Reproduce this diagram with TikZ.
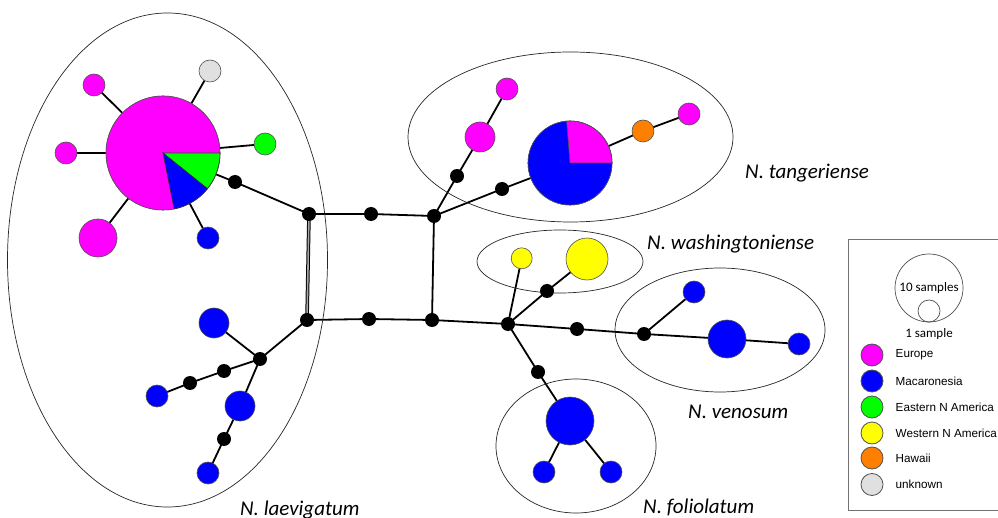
\documentclass[tikz,border=0pt]{standalone}
\usepackage{fontspec}
\setmainfont{Carlito}
\newfontfamily\legendfont{Liberation Sans}
\usetikzlibrary{backgrounds}

\definecolor{eur}{HTML}{FF00FF}
\definecolor{mac}{HTML}{0000FF}
\definecolor{ena}{HTML}{00FF00}
\definecolor{wna}{HTML}{FFFF00}
\definecolor{haw}{HTML}{FF8000}
\definecolor{unk}{HTML}{E0E0E0}
\definecolor{rim}{HTML}{505050}

\tikzset{
  hap/.style={circle, draw=rim, line width=0.6pt, inner sep=0pt, minimum size=#1},
  hap/.default=22pt,
  med/.style={circle, fill=black, inner sep=0pt, minimum size=14pt},
  link/.style={line width=1.8pt, black},
  group/.style={draw=black!85, line width=0.7pt},
  species/.style={font=\fontsize{21}{23}\selectfont\itshape, anchor=base west, inner sep=0pt},
  legtext/.style={font=\legendfont\fontsize{11.7}{13}\selectfont, anchor=west, inner sep=0pt},
  legdot/.style={circle, draw=rim, line width=0.8pt, inner sep=0pt, minimum size=22pt}
}

\begin{document}
\begin{tikzpicture}[x=1pt, y=-1pt]
\useasboundingbox (0,0) rectangle (998,518);
\clip (0,0) rectangle (998,518);

% species groupings
\draw[group] (167.5,260) ellipse [x radius=160, y radius=247];
\draw[group] (570.5,137) ellipse [x radius=162.5, y radius=85];
\draw[group] (560,261.5) ellipse [x radius=83, y radius=31.5];
\draw[group] (720,330) ellipse [x radius=105, y radius=62];
\draw[group] (576,446) ellipse [x radius=80, y radius=67];

% ---------- haplotypes ----------
% N. laevigatum
\node[hap=114pt] (p1) at (163,153) {};
\node[hap, fill=eur] (eu1) at (94,85) {};
\node[hap, fill=unk] (gy) at (210,71) {};
\node[hap, fill=ena] (gr) at (265,144) {};
\node[hap, fill=eur] (eu2) at (66,153) {};
\node[hap=38pt, fill=eur] (eu3) at (98,238) {};
\node[hap, fill=mac] (mc1) at (208,238) {};
\node[med] (k1) at (235,182) {};
\node[hap=30pt, fill=mac] (mc8) at (214,323) {};
\node[hap, fill=mac] (mc9) at (157,396) {};
\node[hap=30pt, fill=mac] (mc10) at (240,406) {};
\node[hap, fill=mac] (mc11) at (208,473) {};
\node[med] (k8) at (260,359) {};
\node[med] (k9) at (224,371) {};
\node[med] (k10) at (190,383) {};
\node[med] (k11) at (224,439) {};

% central network
\node[med] (A) at (309,214) {};
\node[med] (B) at (371,214) {};
\node[med] (C) at (434,216) {};
\node[med] (D) at (307,320) {};
\node[med] (E) at (369,319) {};
\node[med] (F) at (432,320) {};
\node[med] (G) at (508,324) {};

% N. tangeriense
\node[hap=84pt] (p2) at (570,163) {};
\node[med] (k2) at (457,176) {};
\node[med] (k3) at (502,189) {};
\node[hap=30pt, fill=eur] (eu4) at (480,137) {};
\node[hap, fill=eur] (eu5) at (507,89) {};
\node[hap, fill=haw] (ha) at (643,131) {};
\node[hap, fill=eur] (eu6) at (689,114) {};

% N. washingtoniense
\node[hap=21pt, fill=wna] (ye1) at (521.7,258.3) {};
\node[hap=42pt, fill=wna] (ye2) at (587,259) {};
\node[med] (k4) at (547,291) {};

% N. venosum
\node[med] (k5) at (577,329) {};
\node[med] (k6) at (644,334) {};
\node[hap, fill=mac] (mc2) at (694,292) {};
\node[hap=38pt, fill=mac] (mc3) at (727,339) {};
\node[hap, fill=mac] (mc4) at (799,344) {};

% N. foliolatum
\node[med] (k7) at (538,372) {};
\node[hap=48pt, fill=mac] (mc5) at (570,421) {};
\node[hap, fill=mac] (mc6) at (544,472) {};
\node[hap, fill=mac] (mc7) at (611,472) {};

% pie charts of the two shared haplotypes
\filldraw[draw=rim, line width=0.6pt, fill=eur] (163,153) circle [radius=57];
\filldraw[draw=black!80, line width=0.6pt, fill=ena] (163,153) -- ++(0:57) arc [start angle=0, end angle=38.8, radius=57] -- cycle;
\filldraw[draw=black!80, line width=0.6pt, fill=mac] (163,153) -- ++(38.8:57) arc [start angle=38.8, end angle=78.7, radius=57] -- cycle;

\filldraw[draw=rim, line width=0.6pt, fill=mac] (570,163) circle [radius=42];
\filldraw[draw=black!70, line width=0.6pt, fill=eur] (570,163) -- ++(-94.6:42) arc [start angle=-94.6, end angle=0, radius=42] -- cycle;

% ---------- connections ----------
\begin{scope}[on background layer]
\foreach \a/\b in {p1/eu1, p1/gy, p1/gr, p1/eu2, p1/eu3, p1/mc1, p1/k1, k1/A,
                   A/B, B/C, D/E, E/F, F/G, C/F,
                   C/k2, k2/eu4, eu4/eu5, C/k3, k3/p2, p2/ha, ha/eu6,
                   G/ye1, G/k4, k4/ye2,
                   G/k5, k5/k6, k6/mc2, k6/mc3, mc3/mc4,
                   G/k7, k7/mc5, mc5/mc6, mc5/mc7,
                   D/k8, k8/mc8, k8/k9, k9/k10, k10/mc9, k8/mc10, mc10/k11, k11/mc11}
  \draw[link] (\a.center) -- (\b.center);
\draw[black, line width=1pt, double=black!35, double distance=1.6pt] (A.center) -- (D.center);
\end{scope}

% species names
\node[species] at (745,178.5) {N. tangeriense};
\node[species] at (647,250) {N. washingtoniense};
\node[species] at (688,418.5) {N. venosum};
\node[species] at (643,513.5) {N. foliolatum};
\node[species] at (240,515) {N. laevigatum};

% ---------- legend ----------
\draw[black!55, line width=0.8pt] (1000,239) -- (848.5,239) -- (848.5,510) -- (1000,510);
\node[circle, draw=rim, line width=0.7pt, minimum size=68pt, inner sep=0pt] (big) at (929,288) {};
\node[circle, draw=rim, line width=0.7pt, minimum size=22pt, inner sep=0pt] (small) at (929,311) {};
\node[font=\fontsize{13}{14}\selectfont, inner sep=0pt] at (929,288.5) {10 samples};
\node[font=\fontsize{13}{14}\selectfont, inner sep=0pt] at (929,334.5) {1 sample};

\node[legdot, fill=eur] (l1) at (872,355) {};
\node[legdot, fill=mac] (l2) at (872,381) {};
\node[legdot, fill=ena] (l3) at (872,407) {};
\node[legdot, fill=wna] (l4) at (872,433) {};
\node[legdot, fill=haw] (l5) at (872,458) {};
\node[legdot, fill=unk] (l6) at (872,484.5) {};
\node[legtext] at (895.5,355) {Europe};
\node[legtext] at (895.5,381) {Macaronesia};
\node[legtext] at (895.5,407) {Eastern N America};
\node[legtext] at (895.5,433) {Western N America};
\node[legtext] at (895.5,458) {Hawaii};
\node[legtext] at (895.5,484.5) {unknown};
\end{tikzpicture}
\end{document}
